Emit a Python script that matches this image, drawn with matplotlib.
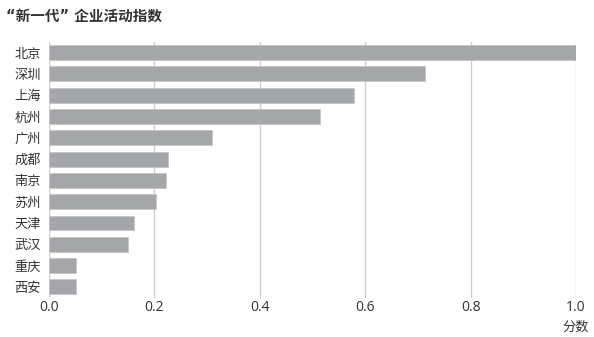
import matplotlib
matplotlib.use('agg')
from matplotlib import pyplot as plt

plt.rcParams['font.family'] = ['Noto Sans CJK SC', 'DejaVu Sans']

cities = ['北京', '深圳', '上海', '杭州', '广州', '成都', '南京', '苏州', '天津', '武汉', '重庆', '西安']
scores = [1.0, 0.713, 0.579, 0.515, 0.309, 0.225, 0.222, 0.203, 0.161, 0.149, 0.052, 0.051]
xticks = [0.0, 0.2, 0.4, 0.6, 0.8, 1.0]
xticklabels = ['0.0', '0.2', '0.4', '0.6', '0.8', '1.0']

text_color = '#333333'
grid_color = '#cfcfd1'
bar_color = '#a4a6a9'

fig = plt.figure(figsize=(5.94, 3.37), dpi=100)
ax = fig.add_axes([49/594, 1 - 297.5/337, 527/594, 255.5/337])

y = list(range(len(cities)))
ax.barh(y, scores, height=0.7, color=bar_color, edgecolor='#c4c6c8', linewidth=0.6, zorder=2)
ax.set_ylim(len(cities) - 0.5, -0.5)
ax.set_xlim(0, 1.0)

ax.set_xticks(xticks)
ax.set_xticklabels(xticklabels, fontsize=10, family=['Open Sans', 'DejaVu Sans'])
ax.set_yticks(y)
ax.set_yticklabels(cities, fontsize=9.5)
ax.tick_params(axis='both', length=0, colors=text_color)
ax.tick_params(axis='x', pad=2)
ax.tick_params(axis='y', pad=6)

ax.grid(axis='x', color=grid_color, linewidth=1.0, zorder=0)
for s in ax.spines.values():
    s.set_visible(False)

fig.text(6/594, 1 - 16/337, '“新一代” 企业活动指数', fontsize=10.5, fontweight='bold',
         family=['DejaVu Sans', 'Noto Sans CJK SC'],
         color=text_color, va='center', ha='left')
fig.text(589/594, 1 - 327/337, '分数', fontsize=9.5, color=text_color, va='center', ha='right')

plt.savefig('out.png', dpi=100)
plt.close()
